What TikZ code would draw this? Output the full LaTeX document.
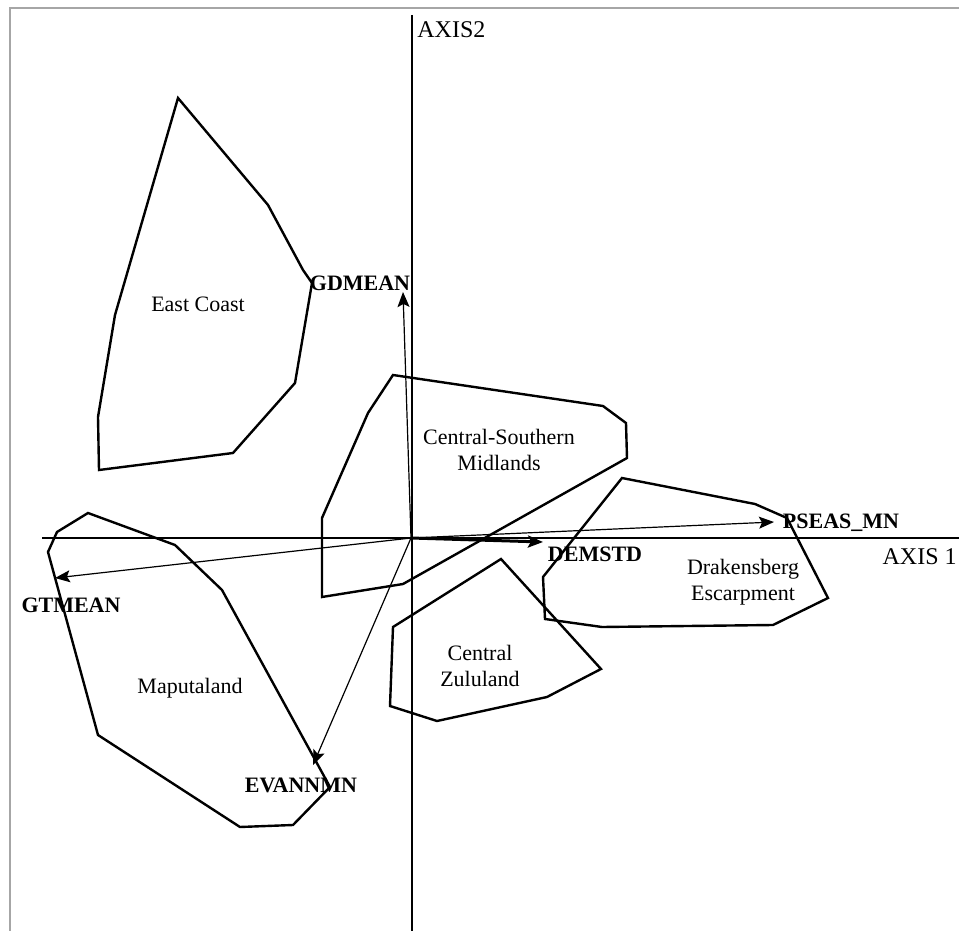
\documentclass[tikz,border=0pt]{standalone}
\usepackage{fontspec}
\setmainfont{Liberation Serif}
\usetikzlibrary{arrows.meta}
\begin{document}
\begin{tikzpicture}[x=0.5pt,y=-0.5pt,
  frameline/.style={draw=gray!70, line width=0.6pt},
  axisline/.style={line width=1.3pt},
  region/.style={draw, line width=1.2pt, line join=miter},
  vec/.style={line width=0.6pt, -{Stealth[length=7.5pt,width=6pt,inset=1.5pt]}},
  vecbold/.style={line width=1.5pt, -{Stealth[length=7.5pt,width=6pt,inset=1.5pt]}},
  varlabel/.style={font=\fontsize{11}{13}\selectfont\bfseries, inner sep=0pt},
  reglabel/.style={font=\fontsize{11}{13}\selectfont, align=center, inner sep=0pt},
  axislabel/.style={font=\fontsize{12}{14}\selectfont, inner sep=0pt}]
\useasboundingbox (0,0) rectangle (959,931);

% outer frame (top and left edges)
\draw[frameline] (10,931) -- (10,8) -- (959,8);

% ordination axes
\draw[axisline] (412,15) -- (412,931);
\draw[axisline] (42,538) -- (959,538);
\node[axislabel, anchor=west] (ax2) at (417,30) {AXIS2};
\node[axislabel, anchor=east] (ax1) at (957,557) {AXIS 1};

% region hulls
\draw[region] (178,98) -- (268,205) -- (303,270) -- (312,283) -- (295,383)
  -- (233,453) -- (99,470) -- (98,417) -- (115,315) -- cycle;
\draw[region] (393,375) -- (603,406) -- (626,423) -- (627,458) -- (403,584)
  -- (322,597) -- (322,518) -- (368,413) -- cycle;
\draw[region] (501,559) -- (601,669) -- (547,697) -- (437,721) -- (390,706)
  -- (393,627) -- cycle;
\draw[region] (622,478) -- (755,504) -- (787,518) -- (828,598) -- (773,625)
  -- (602,627) -- (545,619) -- (543,577) -- cycle;
\draw[region] (88,513) -- (175,545) -- (222,590) -- (330,787) -- (293,825)
  -- (240,827) -- (98,735) -- (48,552) -- (57,532) -- cycle;

% region names
\node[reglabel] (ec)  at (198,304) {East Coast};
\node[reglabel] (csm) at (499,450) {Central-Southern\\Midlands};
\node[reglabel] (cz)  at (480,666) {Central\\Zululand};
\node[reglabel] (de)  at (743,582) {Drakensberg\\Escarpment};
\node[reglabel] (mp)  at (190,688) {Maputaland};

% environmental vectors
\coordinate (o) at (411,538);
\coordinate (tgd) at (403,292);
\coordinate (tps) at (774,522);
\coordinate (tde) at (543,542);
\coordinate (tgt) at (55,578);
\coordinate (tev) at (313,765);
\draw[vec] (o) -- (tgd);
\draw[vec] (o) -- (tps);
\draw[vecbold] (o) -- (tde);
\draw[vec] (o) -- (tgt);
\draw[vec] (o) -- (tev);

\node[varlabel] (gd) at (360,283) {GDMEAN};
\node[varlabel] (ps) at (841,523) {PSEAS\_MN};
\node[varlabel] (de2) at (595,554) {DEMSTD};
\node[varlabel] (gt) at (71,605) {GTMEAN};
\node[varlabel] (ev) at (301,785) {EVANNMN};
\end{tikzpicture}
\end{document}
